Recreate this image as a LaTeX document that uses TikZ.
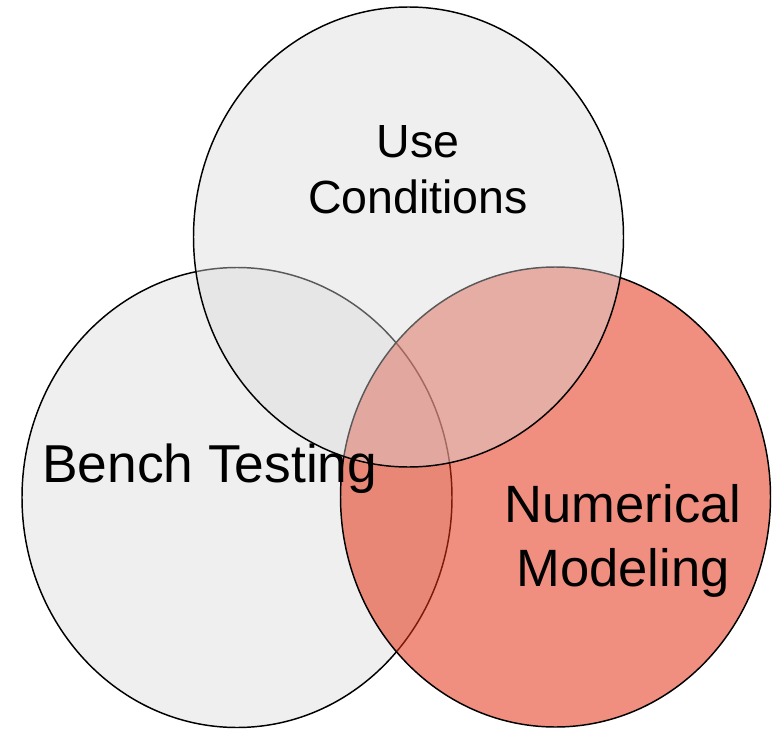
\documentclass[tikz,border=0pt]{standalone}
\usepackage{fontspec}
\setmainfont{Liberation Sans}
\usetikzlibrary{shapes.geometric}
\definecolor{circgray}{RGB}{217,217,217}
\definecolor{circred}{RGB}{228,50,21}
\begin{document}
\begin{tikzpicture}[x=0.75pt,y=-0.75pt,
 venn/.style={ellipse,draw=black,line width=1.1pt,minimum width=322.5pt,minimum height=345pt,inner sep=0pt},
 graycirc/.style={venn,fill=circgray,fill opacity=0.41},
 redcirc/.style={venn,fill=circred,fill opacity=0.55},
 lbl/.style={align=center,inner sep=0pt,text=black}]
 \useasboundingbox (0,0) rectangle (781,731);
 % the three sets
 \node[graycirc] (bench) at (237,497.5) {};
 \node[redcirc] (numer) at (555.5,497) {};
 \node[graycirc] (use) at (408.5,237) {};
 % labels
 \node[lbl,font=\fontsize{34.9}{42}\selectfont] (usetxt) at (418,170) {Use\\Conditions};
 \node[lbl,font=\fontsize{40}{48}\selectfont,anchor=base west] (benchtxt) at (42,482) {Bench Testing};
 \node[lbl,font=\fontsize{39.4}{48}\selectfont] (numtxt) at (623,541) {Numerical\\Modeling};
\end{tikzpicture}
\end{document}
